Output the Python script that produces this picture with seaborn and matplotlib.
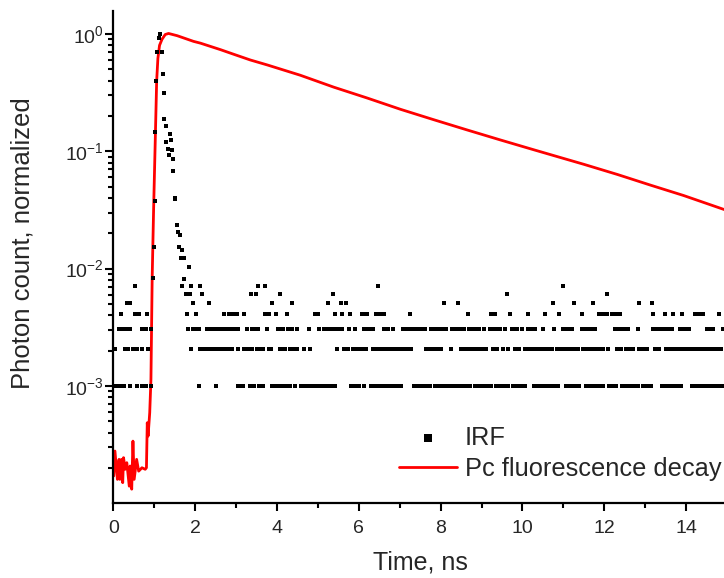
import numpy as np
import pandas as pd
import matplotlib
matplotlib.use("Agg")
import matplotlib.pyplot as plt
import matplotlib.ticker as mticker
import seaborn as sns

# ---------------- data ----------------
# Pc fluorescence decay (normalized photon count) -- red line
decay_x = [0.00, 0.01, 0.04, 0.10, 0.14, 0.16, 0.20, 0.23, 0.25, 0.29, 0.33, 0.39, 0.41,
           0.45, 0.48, 0.51, 0.57, 0.62, 0.70, 0.78, 0.81, 0.83, 0.85, 0.89, 0.92, 0.95,
           0.985, 1.03, 1.06, 1.09, 1.13, 1.19, 1.27, 1.35, 1.56, 1.96, 2.13, 2.62, 2.94,
           3.35, 3.76, 4.57, 5.39, 6.20, 7.02, 7.83, 8.65, 9.46, 10.28, 10.93, 11.50,
           12.32, 13.13, 13.94, 14.92, 15.00]
decay_y = [1.71e-4, 1.71e-4, 2.79e-4, 1.60e-4, 2.37e-4, 1.60e-4, 2.37e-4, 1.50e-4, 2.45e-4,
           1.95e-4, 2.22e-4, 1.40e-4, 2.08e-4, 1.32e-4, 3.39e-4, 1.60e-4, 2.37e-4, 1.88e-4,
           2.01e-4, 1.95e-4, 2.01e-4, 4.86e-4, 3.74e-4, 5.91e-4, 1.14e-3, 8.3e-3, 0.032,
           0.145, 0.40, 0.62, 0.80, 0.90, 0.99, 1.01, 0.967, 0.865, 0.835, 0.735, 0.672,
           0.60, 0.545, 0.445, 0.352, 0.285, 0.228, 0.186, 0.152, 0.125, 0.103, 0.0885,
           0.0775, 0.0635, 0.0515, 0.0420, 0.0320, 0.0313]

# IRF: main peak / tail points
irf_peak_x = [0.96, 0.99, 1.02, 1.03, 1.04, 1.076, 1.11, 1.13, 1.19, 1.21, 1.23, 1.25, 1.28,
              1.30, 1.33, 1.35, 1.38, 1.40, 1.43, 1.45, 1.47, 1.50, 1.52, 1.55, 1.57, 1.60,
              1.62, 1.65, 1.67, 1.74, 1.84]
irf_peak_y = [0.0083, 0.0153, 0.038, 0.146, 0.396, 0.70, 0.92, 1.0, 0.70, 0.457, 0.315,
              0.188, 0.164, 0.120, 0.104, 0.093, 0.140, 0.124, 0.102, 0.086, 0.068, 0.040,
              0.039, 0.0235, 0.0205, 0.0153, 0.0194, 0.0123, 0.0144, 0.0123, 0.0103]

# IRF background: quantized levels (1..8 counts) and the times where they occur
irf_levels = [1.0e-3, 2.05e-3, 3.08e-3, 4.08e-3, 5.14e-3, 6.12e-3, 7.16e-3, 8.2e-3]
irf_x_l1 = [0.03, 0.09, 0.15, 0.21, 0.25, 0.42, 0.57, 0.69, 0.74, 0.79, 0.93, 2.09, 2.50,
            3.06, 3.12, 3.18, 3.33, 3.45, 3.57, 3.67, 3.89, 3.95, 4.01, 4.07, 4.13, 4.19,
            4.25, 4.33, 4.43, 4.58, 4.64, 4.70, 4.75, 4.85, 4.91, 4.97, 5.04, 5.11, 5.17,
            5.23, 5.29, 5.35, 5.41, 5.80, 5.86, 5.92, 6.00, 6.12, 6.29, 6.35, 6.41, 6.51,
            6.57, 6.63, 6.69, 6.75, 6.83, 6.90, 6.96, 7.02, 7.34, 7.40, 7.46, 7.52, 7.58,
            7.64, 7.73, 7.86, 7.93, 8.00, 8.10, 8.16, 8.22, 8.28, 8.34, 8.44, 8.50, 8.56,
            8.62, 8.68, 8.73, 8.83, 8.89, 8.95, 9.01, 9.07, 9.13, 9.22, 9.35, 9.41, 9.47,
            9.53, 9.59, 9.64, 9.76, 9.82, 9.88, 9.94, 10.00, 10.06, 10.28, 10.34, 10.40,
            10.46, 10.52, 10.58, 10.64, 10.70, 10.76, 10.82, 10.86, 11.06, 11.12, 11.18,
            11.24, 11.30, 11.38, 11.55, 11.61, 11.67, 11.73, 11.79, 11.85, 11.91, 11.96,
            12.11, 12.17, 12.23, 12.28, 12.43, 12.49, 12.55, 12.61, 12.67, 12.73, 12.82,
            12.94, 13.00, 13.06, 13.14, 13.41, 13.47, 13.53, 13.59, 13.65, 13.71, 13.77,
            13.83, 13.87, 14.14, 14.20, 14.26, 14.32, 14.38, 14.44, 14.50, 14.56, 14.62,
            14.68, 14.74, 14.80, 14.90]
irf_x_l2 = [0.03, 0.28, 0.33, 0.37, 0.47, 0.53, 0.59, 0.69, 0.86, 1.89, 2.11, 2.17, 2.23,
            2.29, 2.35, 2.41, 2.47, 2.52, 2.58, 2.64, 2.70, 2.76, 2.82, 2.89, 3.06, 3.20,
            3.27, 3.33, 3.40, 3.52, 3.59, 3.67, 3.80, 3.86, 4.07, 4.13, 4.19, 4.31, 4.37,
            4.43, 4.50, 4.65, 4.80, 5.46, 5.65, 5.73, 5.85, 5.91, 5.97, 6.03, 6.09, 6.17,
            6.36, 6.42, 6.48, 6.54, 6.60, 6.66, 6.72, 6.78, 6.87, 6.95, 7.01, 7.07, 7.13,
            7.22, 7.27, 7.64, 7.70, 7.76, 7.82, 7.88, 7.94, 8.02, 8.25, 8.49, 8.55, 8.61,
            8.67, 8.73, 8.79, 8.85, 8.91, 8.97, 9.03, 9.10, 9.27, 9.33, 9.39, 9.52, 9.64,
            9.81, 9.86, 9.91, 10.06, 10.12, 10.18, 10.24, 10.30, 10.36, 10.42, 10.48,
            10.54, 10.60, 10.66, 10.72, 10.84, 10.90, 10.96, 11.02, 11.08, 11.16, 11.23,
            11.29, 11.35, 11.47, 11.53, 11.59, 11.65, 11.71, 11.77, 11.83, 11.89, 11.96,
            12.09, 12.31, 12.36, 12.41, 12.52, 12.58, 12.64, 12.70, 12.84, 12.90, 12.96,
            13.04, 13.23, 13.29, 13.35, 13.52, 13.58, 13.64, 13.70, 13.76, 13.82, 13.92,
            13.98, 14.04, 14.10, 14.16, 14.22, 14.28, 14.34, 14.40, 14.46, 14.52, 14.58,
            14.64, 14.70, 14.76, 14.85]
irf_x_l3 = [0.13, 0.23, 0.29, 0.35, 0.40, 0.69, 0.75, 0.81, 0.93, 1.82, 1.94, 2.00, 2.05,
            2.09, 2.28, 2.40, 2.47, 2.54, 2.60, 2.67, 2.77, 2.87, 2.93, 2.99, 3.04, 3.28,
            3.40, 3.47, 3.53, 3.75, 4.02, 4.09, 4.16, 4.26, 4.33, 4.38, 4.50, 4.78, 5.04,
            5.16, 5.22, 5.28, 5.34, 5.40, 5.46, 5.51, 5.60, 5.75, 5.92, 6.12, 6.18, 6.24,
            6.30, 6.36, 6.61, 6.66, 6.71, 6.83, 7.07, 7.13, 7.19, 7.25, 7.31, 7.37, 7.43,
            7.49, 7.55, 7.61, 7.76, 7.82, 7.88, 7.94, 8.00, 8.06, 8.12, 8.27, 8.33, 8.39,
            8.45, 8.51, 8.56, 8.69, 8.75, 8.81, 8.87, 8.93, 9.05, 9.20, 9.26, 9.32, 9.38,
            9.46, 9.57, 9.74, 9.80, 9.86, 9.98, 10.13, 10.19, 10.25, 10.30, 10.50, 10.77,
            10.99, 11.05, 11.11, 11.16, 11.21, 11.45, 11.51, 11.57, 11.63, 11.69, 11.77,
            12.26, 12.32, 12.38, 12.44, 12.50, 12.57, 12.82, 13.19, 13.25, 13.31, 13.37,
            13.43, 13.49, 13.55, 13.65, 13.85, 13.91, 13.97, 14.03, 14.07, 14.51, 14.58,
            14.66, 14.90]
irf_x_l4 = [0.20, 0.52, 0.64, 0.83, 1.79, 2.01, 2.70, 2.82, 2.87, 2.92, 2.97, 3.03, 3.19,
            3.72, 3.80, 3.97, 4.24, 4.92, 5.00, 5.41, 5.58, 5.78, 6.07, 6.13, 6.19, 6.41,
            6.47, 6.53, 6.61, 7.24, 8.66, 9.22, 9.27, 9.32, 9.69, 10.13, 10.55, 10.89,
            11.45, 11.87, 11.93, 12.00, 12.06, 12.18, 12.25, 12.32, 12.38, 13.19, 13.48,
            13.67, 13.89, 14.21, 14.28, 14.35, 14.41, 14.80]
irf_x_l5 = [0.33, 0.42, 1.94, 2.35, 3.89, 4.36, 5.24, 5.56, 5.68, 8.08, 8.42, 10.74, 11.26,
            11.72, 12.84, 13.16]
irf_x_l6 = [1.77, 1.87, 2.16, 3.36, 3.48, 4.07, 5.36, 9.62, 12.06]
irf_x_l7 = [0.54, 1.69, 1.91, 2.11, 3.53, 3.70, 6.46, 10.99]
irf_x_l8 = [1.72]

x_ticks = [0, 2, 4, 6, 8, 10, 12, 14]
y_ticks = [1e-3, 1e-2, 1e-1, 1e0]
y_tick_labels = [r"$10^{-3}$", r"$10^{-2}$", r"$10^{-1}$", r"$10^{0}$"]

# ---------------- build tables ----------------
bg_lists = [irf_x_l1, irf_x_l2, irf_x_l3, irf_x_l4, irf_x_l5, irf_x_l6, irf_x_l7, irf_x_l8]
irf_x_all = list(irf_peak_x)
irf_y_all = list(irf_peak_y)
for lvl, xs in zip(irf_levels, bg_lists):
    irf_x_all += xs
    irf_y_all += [lvl] * len(xs)
irf_df = pd.DataFrame({"t": irf_x_all, "v": irf_y_all, "s": "IRF"})
dec_df = pd.DataFrame({"t": decay_x, "v": decay_y, "s": "Pc fluorescence decay"})

# ---------------- style ----------------
sns.set_style("ticks")
plt.rcParams["font.family"] = ["Liberation Sans", "DejaVu Sans"]
plt.rcParams["mathtext.fontset"] = "custom"
plt.rcParams["mathtext.rm"] = "Liberation Sans"
plt.rcParams["mathtext.it"] = "Liberation Sans:italic"
plt.rcParams["mathtext.bf"] = "Liberation Sans:bold"

fig = plt.figure(figsize=(7.24, 5.78), dpi=100)
ax = fig.add_axes([0.1565, 0.1292, 0.8476, 0.8518])

sns.scatterplot(data=irf_df, x="t", y="v", ax=ax, marker="s", s=7, color="black",
                linewidth=0, label="IRF", zorder=3, legend=False)
sns.lineplot(data=dec_df, x="t", y="v", ax=ax, color="#ff0000", linewidth=2.0,
             sort=False, estimator=None, label="Pc fluorescence decay", zorder=2,
             legend=False)

ax.set_yscale("log")
ax.set_xlim(0, 15)
ax.set_ylim(1.0e-4, 1.57)

ax.set_xticks(x_ticks)
ax.set_xticklabels([str(v) for v in x_ticks])
ax.xaxis.set_minor_locator(mticker.MultipleLocator(1))
ax.set_yticks(y_ticks)
ax.set_yticklabels(y_tick_labels)
ax.yaxis.set_minor_locator(mticker.LogLocator(base=10, subs=np.arange(2, 10), numticks=20))
ax.yaxis.set_minor_formatter(mticker.NullFormatter())

for side in ["top", "right"]:
    ax.spines[side].set_visible(False)
for side in ["left", "bottom"]:
    ax.spines[side].set_linewidth(1.6)
    ax.spines[side].set_color("black")

ax.tick_params(axis="both", which="major", direction="out", length=5.8, width=1.5,
               color="black", labelsize=14)
ax.tick_params(axis="both", which="minor", direction="out", length=3.6, width=1.5,
               color="black")
ax.tick_params(axis="x", which="major", pad=6)
ax.tick_params(axis="y", which="major", pad=1)

ax.set_xlabel("Time, ns", fontsize=18, labelpad=10)
ax.set_ylabel("Photon count, normalized", fontsize=18.5)
ax.yaxis.set_label_coords(-0.128, 0.528)

handles, labels = ax.get_legend_handles_labels()
fig.legend(handles, labels, loc="upper left", bbox_to_anchor=(399 / 724, 1 - 426 / 578),
           frameon=False, fontsize=18.3, markerscale=2.1, handlelength=2.3,
           handletextpad=0.3, borderpad=0, borderaxespad=0, labelspacing=0.27)

fig.savefig("out.png", dpi=100)
